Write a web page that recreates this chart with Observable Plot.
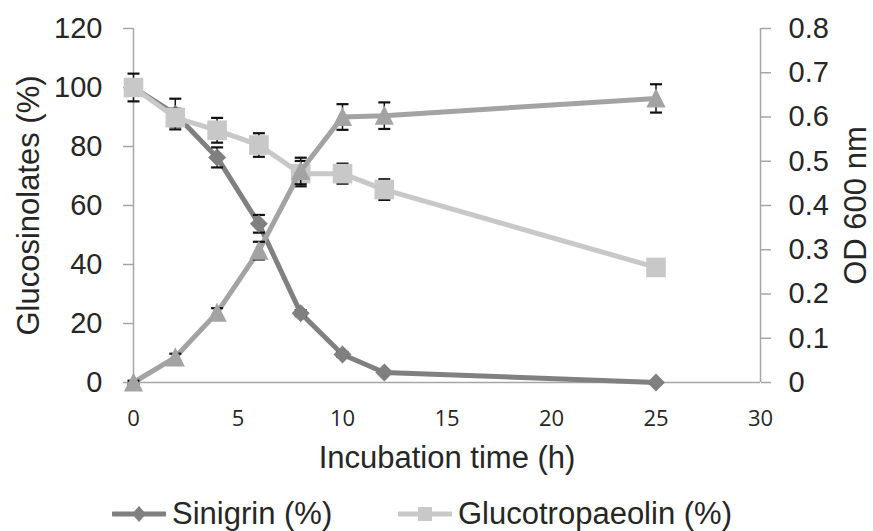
<!DOCTYPE html>
<html><head><meta charset="utf-8">
<script src="https://cdn.jsdelivr.net/npm/d3@7"></script>
<script src="https://cdn.jsdelivr.net/npm/@observablehq/plot@0.6"></script>
<style>
body{margin:0;background:#fff;width:873px;height:531px;overflow:hidden;font-family:"Liberation Sans",Arial,sans-serif;}
#legend{position:relative;height:34px;}
.item{position:absolute;top:0;display:flex;align-items:center;height:34px;font-size:31px;color:#262626;white-space:nowrap;}
.item svg{margin-right:6px;}
</style></head><body>
<div id="chart"></div>
<div id="legend"></div>
<script>
// ---- data ----
const time = [0, 2, 4, 6, 8, 10, 12, 25];
const sinigrin = [100, 91, 76.3, 53.8, 23.5, 9.5, 3.4, 0];
const sinigrinErr = [4.7, 5.2, 3.4, 3, 1, 0.8, 0.5, 0.3];
const gluco = [100, 89.8, 85.5, 80.5, 70.8, 70.8, 65.4, 39];
const glucoErr = [1, 3, 4.2, 4, 4.3, 3.4, 3.5, 1];
const od = [0, 0.057, 0.158, 0.298, 0.478, 0.6, 0.603, 0.642];
const odErr = [0.004, 0.008, 0.01, 0.02, 0.03, 0.029, 0.03, 0.032];
const xTicks = [0, 5, 10, 15, 20, 25, 30];
const yTicks = [0, 20, 40, 60, 80, 100, 120];
const odTicks = [0, 0.1, 0.2, 0.3, 0.4, 0.5, 0.6, 0.7, 0.8];
const seriesNames = ["Sinigrin (%)", "Glucotropaeolin (%)"];
const colors = {sinigrin: "#808080", gluco: "#c8c8c8", od: "#a3a3a3"};

// ---- build ----
const odScale = 120 / 0.8;
const rows = (vals, errs, k = 1) => time.map((t, i) => ({t, v: vals[i] * k, lo: (vals[i] - errs[i]) * k, hi: (vals[i] + errs[i]) * k}));
const sData = rows(sinigrin, sinigrinErr);
const gData = rows(gluco, glucoErr);
const oData = rows(od, odErr, odScale);

const sym = (pts) => ({draw(ctx, size) {const r = Math.sqrt(size / Math.PI); pts.forEach(([x, y], i) => i ? ctx.lineTo(x * r, y * r) : ctx.moveTo(x * r, y * r)); ctx.closePath();}});
const square = sym([[-1, -1], [1, -1], [1, 1], [-1, 1]]);
const diamond = sym([[0, -1], [1, 0], [0, 1], [-1, 0]]);
const triangle = sym([[0, -1.05], [1, 0.95], [-1, 0.95]]);
const cap = {draw(ctx, size) {const r = Math.sqrt(size / Math.PI); ctx.moveTo(-r, 0); ctx.lineTo(r, 0);}};

function series(data, color, marker, r) {
  return [
    Plot.line(data, {x: "t", y: "v", stroke: color, strokeWidth: 5}),
    Plot.ruleX(data, {x: "t", y1: "lo", y2: "hi", stroke: "#111", strokeWidth: 1.5}),
    Plot.dot(data, {x: "t", y: "lo", symbol: cap, r: 6, stroke: "#111", strokeWidth: 2.2, fill: "none"}),
    Plot.dot(data, {x: "t", y: "hi", symbol: cap, r: 6, stroke: "#111", strokeWidth: 2.2, fill: "none"}),
    Plot.dot(data, {x: "t", y: "v", symbol: marker, r, fill: color, stroke: "none"})
  ];
}

const axisGray = "#a6a6a6";
const textCol = "#262626";

const chart = Plot.plot({
  width: 873, height: 497,
  marginLeft: 133, marginRight: 113, marginTop: 28, marginBottom: 115,
  style: {fontFamily: "'Liberation Sans', Arial, sans-serif", background: "#fff", overflow: "visible"},
  x: {domain: [0, 30]},
  y: {domain: [0, 120]},
  marks: [
    Plot.ruleX([0], {stroke: axisGray, strokeWidth: 1.5}),
    Plot.ruleX([30], {stroke: axisGray, strokeWidth: 1.5}),
    Plot.ruleY([0], {stroke: axisGray, strokeWidth: 1.5}),
    Plot.axisX({ticks: xTicks, tickSize: 0, tickPadding: 28, fontSize: 22, fontFamily: "'Open Sans', sans-serif", fill: textCol, label: null}),
    Plot.axisY({ticks: yTicks, anchor: "left", tickSize: 10, tickPadding: 21, fontSize: 29, stroke: axisGray, strokeWidth: 1.5, fill: textCol, label: null}),
    Plot.axisY({ticks: odTicks.map(v => v * odScale), anchor: "right", tickSize: 10, tickPadding: 18, fontSize: 29, stroke: axisGray, strokeWidth: 1.5, fill: textCol, label: null,
      tickFormat: d => String(Math.round(d / odScale * 10) / 10)}),
    Plot.text(["Incubation time (h)"], {frameAnchor: "bottom", textAnchor: "middle", lineAnchor: "middle", dy: 76, fontSize: 31, fill: textCol}),
    Plot.text(["Glucosinolates (%)"], {frameAnchor: "left", textAnchor: "middle", lineAnchor: "middle", rotate: -90, dx: -104, fontSize: 31, fill: textCol}),
    Plot.text(["OD 600 nm"], {frameAnchor: "right", textAnchor: "middle", lineAnchor: "middle", rotate: -90, dx: 96, fontSize: 31, fill: textCol}),
    ...series(sData, colors.sinigrin, diamond, 9),
    ...series(gData, colors.gluco, square, 9.8),
    ...series(oData, colors.od, triangle, 9.6)
  ]
});
document.getElementById("chart").appendChild(chart);

// ---- legend ----
const legend = document.getElementById("legend");
const legendItems = [
  {name: seriesNames[0], color: colors.sinigrin, shape: "M27,9 L34,17 L27,25 L20,17 Z", left: 112},
  {name: seriesNames[1], color: colors.gluco, shape: "M20,10 L34,10 L34,24 L20,24 Z", left: 398}
];
legendItems.forEach(it => {
  const div = document.createElement("div");
  div.className = "item";
  div.style.left = it.left + "px";
  div.innerHTML = `<svg width="54" height="34"><line x1="1" y1="17" x2="53" y2="17" stroke="${it.color}" stroke-width="5" stroke-linecap="round"/><path d="${it.shape}" fill="${it.color}"/></svg><span>${it.name}</span>`;
  legend.appendChild(div);
});
</script>
</body></html>
